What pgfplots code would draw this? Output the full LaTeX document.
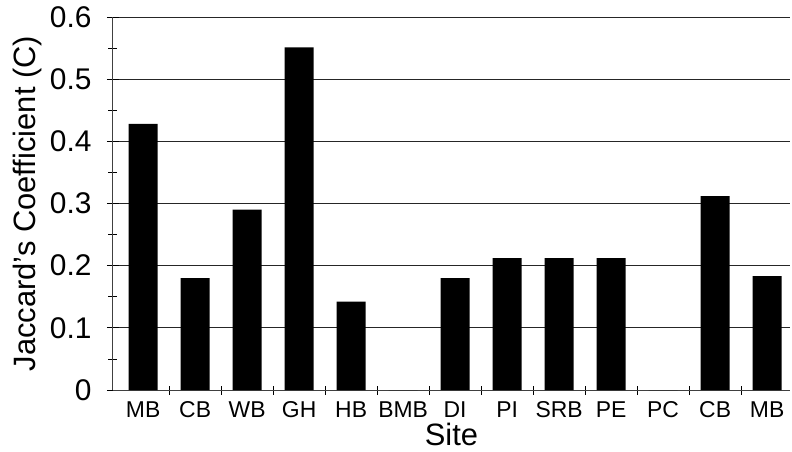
\documentclass[border=0pt]{standalone}
\usepackage{fontspec}
\setmainfont{Liberation Sans}
\usepackage{pgfplots}
\pgfplotsset{compat=1.18}
\begin{document}
\begin{tikzpicture}
\useasboundingbox (-113bp,-62bp) rectangle (679bp,390bp);
\begin{axis}[
  at={(0,0)}, anchor=south west,
  scale only axis, width=677bp, height=373bp,
  xmin=-0.58, xmax=12.44, ymin=0, ymax=0.6,
  axis lines*=left,
  axis line style={line width=1bp, black!75},
  xtick={0,1,2,3,4,5,6,7,8,9,10,11,12},
  xticklabels={MB,CB,WB,GH,HB,BMB,DI,PI,SRB,PE,PC,CB,MB},
  major x tick style={draw=none},
  minor xtick={0.5,1.5,2.5,3.5,4.5,5.5,6.5,7.5,8.5,9.5,10.5,11.5},
  ytick={0,0.1,0.2,0.3,0.4,0.5,0.6},
  minor ytick={0.05,0.15,0.25,0.35,0.45,0.55},
  tick align=center,
  major tick length=12bp,
  minor tick length=9bp,
  tick style={black, line width=0.8bp},
  ymajorgrids,
  major grid style={black!85, line width=0.9bp},
  /pgf/number format/assume math mode=true,
  yticklabel style={/pgf/number format/fixed, /pgf/number format/precision=1, font=\fontsize{30}{32}\selectfont, xshift=-12bp},
  xticklabel style={font=\fontsize{23}{25}\selectfont, yshift=-2bp},
  xlabel={Site}, ylabel={Jaccard{\char"27}s Coefficient (C)},
  label style={font=\fontsize{31}{33}\selectfont},
  xlabel style={yshift=-1bp, inner sep=1bp},
  ylabel style={yshift=1bp},
]
\addplot[ybar, bar width=0.56, fill=black, draw=none] coordinates {
(0,0.428) (1,0.180) (2,0.290) (3,0.551) (4,0.142) (5,0) (6,0.180)
(7,0.212) (8,0.212) (9,0.212) (10,0) (11,0.312) (12,0.183)
};
\end{axis}
\end{tikzpicture}
\end{document}
